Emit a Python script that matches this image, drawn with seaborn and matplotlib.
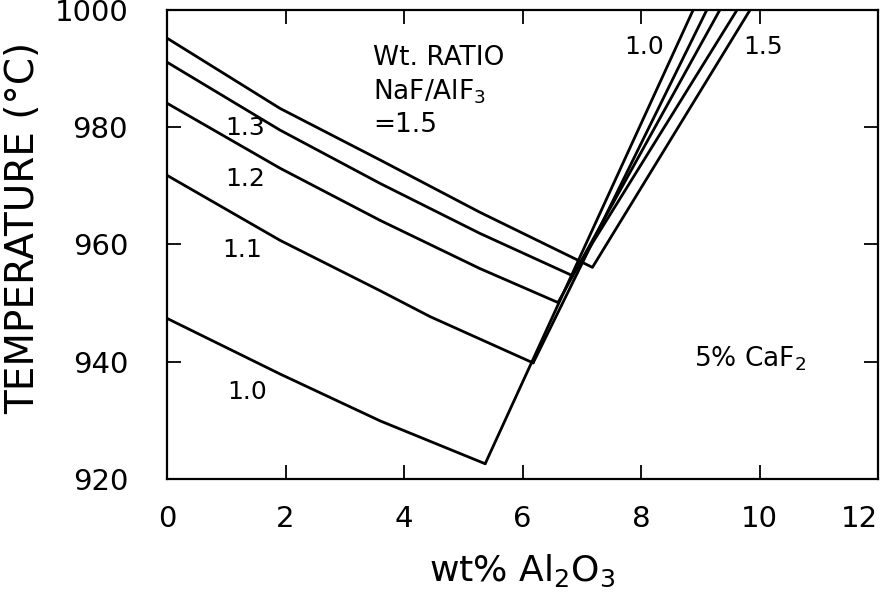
import matplotlib
matplotlib.use("Agg")
import matplotlib.pyplot as plt
import seaborn as sns
import pandas as pd

# Cryolite-side liquidus curves (wt% Al2O3, temperature °C)
x_r15 = [0.0, 1.91, 3.60, 5.28, 6.94]
t_r15 = [995.2, 983.2, 974.4, 965.5, 957.3]
x_r13 = [0.0, 1.91, 3.60, 5.28, 6.84]
t_r13 = [991.1, 979.5, 970.4, 961.9, 954.7]
x_r12 = [0.0, 1.91, 3.60, 5.28, 6.60]
t_r12 = [984.1, 973.0, 964.1, 955.9, 950.1]
x_r11 = [0.0, 1.91, 3.60, 4.44, 6.18]
t_r11 = [971.8, 960.7, 952.1, 947.7, 939.8]
x_r10 = [0.0, 1.91, 3.60, 5.37]
t_r10 = [947.4, 937.9, 929.9, 922.6]

# Alumina-side liquidus lines
ax_r10 = [5.37, 8.88]
at_r10 = [922.6, 1000.0]
ax_r11 = [6.18, 9.11]
at_r11 = [939.8, 1000.0]
ax_r12 = [6.60, 9.33]
at_r12 = [950.1, 1000.0]
ax_r13 = [6.84, 9.62]
at_r13 = [954.7, 1000.0]
ax_r15 = [6.94, 7.18, 9.84]
at_r15 = [957.3, 956.1, 1000.0]

curve_labels = ["1.3", "1.2", "1.1", "1.0"]
curve_label_x = [1.32, 1.32, 1.27, 1.35]
curve_label_t = [979.8, 971.1, 959.0, 934.9]

x_ticks = [0, 2, 4, 6, 8, 10, 12]
y_ticks = [920, 940, 960, 980, 1000]

sns.set_theme(style="ticks")
plt.rcParams["font.family"] = ["DejaVu Sans"]
plt.rcParams["mathtext.default"] = "regular"
plt.rcParams["text.color"] = "black"
plt.rcParams["axes.labelcolor"] = "black"

fig = plt.figure(figsize=(8.83, 5.92), dpi=100)
ax = fig.add_axes([167 / 883, 1 - 479 / 592, (878 - 167) / 883, (479 - 10) / 592])

lw = 2.0
series = [(x_r15, t_r15), (x_r13, t_r13), (x_r12, t_r12), (x_r11, t_r11), (x_r10, t_r10),
          (ax_r10, at_r10), (ax_r11, at_r11), (ax_r12, at_r12), (ax_r13, at_r13), (ax_r15, at_r15)]
for xs, ts in series:
    df = pd.DataFrame({"x": xs, "t": ts})
    sns.lineplot(data=df, x="x", y="t", sort=False, estimator=None, color="black",
                 linewidth=lw, ax=ax, legend=False)

ax.set_xlim(0, 12)
ax.set_ylim(920, 1000)
ax.set_xticks(x_ticks)
ax.set_yticks(y_ticks)
ax.set_xticklabels([str(v) for v in x_ticks])
ax.set_yticklabels([str(v) for v in y_ticks])
ax.tick_params(direction="in", length=10, width=1.3, top=True, right=True,
               labelsize=21, colors="black")
ax.tick_params(axis="x", pad=19)
ax.tick_params(axis="y", pad=28)
ax.get_xticklabels()[-1].set_horizontalalignment("right")
for s in ax.spines.values():
    s.set_linewidth(1.6)
    s.set_color("black")

ax.set_xlabel("wt% Al$_2$O$_3$", fontsize=26, labelpad=14)
ax.set_ylabel("TEMPERATURE (°C)", fontsize=28)
ax.yaxis.set_label_coords(-0.175, 0.535)

for lab, lx, lt in zip(curve_labels, curve_label_x, curve_label_t):
    ax.text(lx, lt, lab, fontsize=18, ha="center", va="center")

ax.text(8.05, 993.7, "1.0", fontsize=18, ha="center", va="center")
ax.text(10.06, 993.7, "1.5", fontsize=18, ha="center", va="center")
ax.text(3.48, 994.0, "Wt. RATIO\nNaF/AlF$_3$\n=1.5", fontsize=19, ha="left", va="top",
        linespacing=1.3)
ax.text(9.84, 940.5, "5% CaF$_2$", fontsize=19, ha="center", va="center")

fig.savefig("out.png", dpi=100, facecolor="white")
